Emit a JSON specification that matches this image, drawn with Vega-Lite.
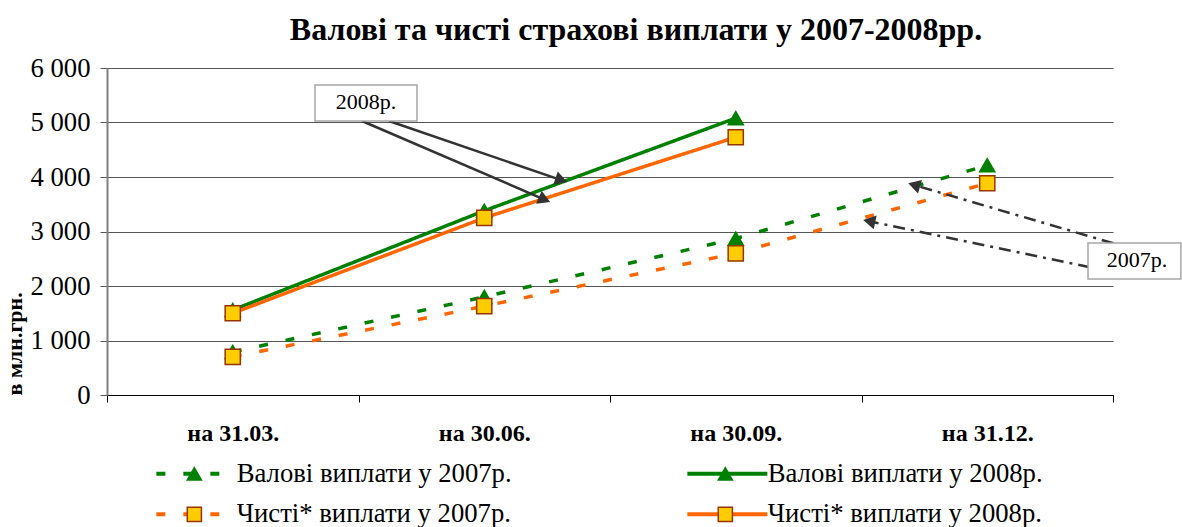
{
  "$schema": "https://vega.github.io/schema/vega-lite/v6.json",
  "width": 1006,
  "height": 327,
  "autosize": {"type": "none"},
  "padding": {"left": 107, "top": 68, "right": 69, "bottom": 132},
  "background": "white",
  "title": {
    "text": "Валові та чисті страхові виплати у 2007-2008рр.",
    "font": "Liberation Serif",
    "fontSize": 32,
    "fontWeight": "bold",
    "color": "black",
    "anchor": "middle",
    "dx": 26,
    "offset": 8
  },
  "config": {
    "view": {"stroke": null},
    "font": "Liberation Serif",
    "axis": {"labelFont": "Liberation Serif", "titleFont": "Liberation Serif"},
    "legend": {"labelFont": "Liberation Serif", "labelFontSize": 26.7, "labelColor": "black", "labelLimit": 500}
  },
  "datasets": {
    "pts": [
      {"series": "Валові виплати у 2007р.", "x": 1, "y": 790},
      {"series": "Валові виплати у 2007р.", "x": 2, "y": 1800},
      {"series": "Валові виплати у 2007р.", "x": 3, "y": 2870},
      {"series": "Валові виплати у 2007р.", "x": 4, "y": 4215},
      {"series": "Валові виплати у 2008р.", "x": 1, "y": 1560},
      {"series": "Валові виплати у 2008р.", "x": 2, "y": 3380},
      {"series": "Валові виплати у 2008р.", "x": 3, "y": 5080},
      {"series": "Чисті* виплати у 2007р.", "x": 1, "y": 700},
      {"series": "Чисті* виплати у 2007р.", "x": 2, "y": 1630},
      {"series": "Чисті* виплати у 2007р.", "x": 3, "y": 2600},
      {"series": "Чисті* виплати у 2007р.", "x": 4, "y": 3885},
      {"series": "Чисті* виплати у 2008р.", "x": 1, "y": 1500},
      {"series": "Чисті* виплати у 2008р.", "x": 2, "y": 3250},
      {"series": "Чисті* виплати у 2008р.", "x": 3, "y": 4730}
    ],
    "arrows": [
      {"label": "2008р.", "id": "a", "x": 1.5139, "y": 5027.5, "x2": 2.2396, "y2": 3585.4},
      {"label": "2008р.", "id": "b", "x": 1.6213, "y": 5027.5, "x2": 2.3064, "y2": 3943.2},
      {"label": "2007р.", "id": "c", "x": 4.5012, "y": 2783.5, "x2": 3.7092, "y2": 3853.3},
      {"label": "2007р.", "id": "d", "x": 4.4085, "y": 2343.2, "x2": 3.5305, "y2": 3189.1}
    ],
    "boxes": [
      {"label": "2008р.", "x": 1.327, "x2": 1.7326, "y": 5688, "y2": 5027.6, "tx": 1.5298, "ty": 5376},
      {"label": "2007р.", "x": 4.4006, "x2": 4.77, "y": 2789, "y2": 2128.5, "tx": 4.5954, "ty": 2477}
    ]
  },
  "layer": [
    {
      "data": {"name": "pts"},
      "mark": {"type": "line", "strokeWidth": 3.5},
      "encoding": {
        "x": {
          "field": "x", "type": "quantitative", "title": null,
          "scale": {"domain": [0.5, 4.5], "nice": false, "zero": false},
          "axis": {
            "values": [0.5, 1.5, 2.5, 3.5, 4.5],
            "labelExpr": "datum.value == 0.5 ? 'на 31.03.' : datum.value == 1.5 ? 'на 30.06.' : datum.value == 2.5 ? 'на 30.09.' : datum.value == 3.5 ? 'на 31.12.' : ''",
            "labelOffset": 125.75,
            "labelFlush": false,
            "labelOverlap": false,
            "labelBound": false,
            "labelFont": "Liberation Serif",
            "labelFontSize": 24,
            "labelFontWeight": "bold",
            "labelColor": "black",
            "labelPadding": 19,
            "tickSize": 7,
            "tickColor": "black",
            "domainColor": "black",
            "grid": false
          }
        },
        "y": {
          "field": "y", "type": "quantitative", "title": "в млн.грн.",
          "scale": {"domain": [0, 6000], "nice": false},
          "axis": {
            "values": [0, 1000, 2000, 3000, 4000, 5000, 6000],
            "labelExpr": "replace(format(datum.value, ','), ',', ' ')",
            "labelFont": "Liberation Serif",
            "labelFontSize": 26.7,
            "labelColor": "black",
            "labelPadding": 10,
            "tickSize": 7,
            "tickColor": "#555555",
            "domainColor": "#808080",
            "domainWidth": 2,
            "grid": true,
            "gridColor": "#555555",
            "gridWidth": 1,
            "titleFont": "Liberation Serif",
            "titleFontSize": 22,
            "titleFontWeight": "bold",
            "titleColor": "black",
            "titleAnchor": "start",
            "titlePadding": 3
          }
        },
        "color": {
          "field": "series", "type": "nominal",
          "scale": {
            "domain": ["Валові виплати у 2007р.", "Валові виплати у 2008р.", "Чисті* виплати у 2007р.", "Чисті* виплати у 2008р."],
            "range": ["#008000", "#008000", "#FF6600", "#FF6600"]
          },
          "legend": {
            "orient": "none", "legendX": 50, "legendY": 392,
            "columns": 2, "direction": "horizontal", "title": null,
            "symbolType": "M-8,0H8", "symbolSize": 100, "symbolStrokeWidth": 4,
            "symbolOffset": 26, "labelOffset": 27,
            "labelFont": "Liberation Serif", "labelFontSize": 26.7, "labelColor": "black",
            "labelLimit": 500, "columnPadding": 167, "rowPadding": 13, "zindex": 0
          }
        },
        "strokeDash": {
          "field": "series", "type": "nominal",
          "scale": {
            "domain": ["Валові виплати у 2007р.", "Валові виплати у 2008р.", "Чисті* виплати у 2007р.", "Чисті* виплати у 2008р."],
            "range": [[9, 18], [1, 0], [9, 18], [1, 0]]
          }
        }
      }
    },
    {
      "data": {"name": "pts"},
      "transform": [{"calculate": "datum.series", "as": "marker"}],
      "mark": {"type": "point", "filled": true, "opacity": 1, "strokeWidth": 1.5},
      "encoding": {
        "x": {"field": "x", "type": "quantitative"},
        "y": {"field": "y", "type": "quantitative"},
        "shape": {
          "field": "marker", "type": "nominal",
          "scale": {"range": ["triangle-up", "triangle-up", "square", "square"]},
          "legend": {
            "orient": "none", "legendX": 50, "legendY": 392,
            "columns": 2, "direction": "horizontal", "title": null,
            "symbolSize": 200, "symbolStrokeWidth": 1.5,
            "symbolOffset": 24, "labelOffset": 29,
            "labelExpr": "''",
            "labelFont": "Liberation Serif", "labelFontSize": 26.7,
            "labelLimit": 500, "columnPadding": 451, "rowPadding": 13, "zindex": 1
          }
        },
        "fill": {
          "field": "marker", "type": "nominal",
          "scale": {"range": ["#008000", "#008000", "#FFCC00", "#FFCC00"]}
        },
        "stroke": {
          "field": "marker", "type": "nominal",
          "scale": {"range": ["#008000", "#008000", "#993300", "#993300"]}
        },
        "size": {
          "field": "marker", "type": "nominal",
          "scale": {
            "domain": ["Валові виплати у 2008р.", "Валові виплати у 2007р.", "Чисті* виплати у 2008р.", "Чисті* виплати у 2007р."],
            "range": [230, 230, 150, 150]
          },
          "legend": null
        }
      }
    },
    {
      "data": {"name": "arrows"},
      "transform": [{"filter": "datum.label == '2008р.'"}],
      "mark": {"type": "rule", "color": "#333333", "strokeWidth": 2.5},
      "encoding": {
        "x": {"field": "x", "type": "quantitative"},
        "y": {"field": "y", "type": "quantitative"},
        "x2": {"field": "x2"},
        "y2": {"field": "y2"}
      }
    },
    {
      "data": {"name": "arrows"},
      "transform": [{"filter": "datum.label == '2007р.'"}],
      "mark": {"type": "rule", "color": "#333333", "strokeWidth": 2.5, "strokeDash": [12, 6, 3, 6]},
      "encoding": {
        "x": {"field": "x", "type": "quantitative"},
        "y": {"field": "y", "type": "quantitative"},
        "x2": {"field": "x2"},
        "y2": {"field": "y2"}
      }
    },
    {
      "data": {"name": "arrows"},
      "transform": [{"filter": "datum.id == 'a'"}],
      "mark": {"type": "point", "shape": "triangle-right", "filled": true, "opacity": 1, "color": "#333333", "size": 200, "angle": 23.3},
      "encoding": {
        "x": {"field": "x2", "type": "quantitative"},
        "y": {"field": "y2", "type": "quantitative"}
      }
    },
    {
      "data": {"name": "arrows"},
      "transform": [{"filter": "datum.id == 'b'"}],
      "mark": {"type": "point", "shape": "triangle-right", "filled": true, "opacity": 1, "color": "#333333", "size": 200, "angle": 18.9},
      "encoding": {
        "x": {"field": "x2", "type": "quantitative"},
        "y": {"field": "y2", "type": "quantitative"}
      }
    },
    {
      "data": {"name": "arrows"},
      "transform": [{"filter": "datum.id == 'c'"}],
      "mark": {"type": "point", "shape": "triangle-right", "filled": true, "opacity": 1, "color": "#333333", "size": 200, "angle": 196.3},
      "encoding": {
        "x": {"field": "x2", "type": "quantitative"},
        "y": {"field": "y2", "type": "quantitative"}
      }
    },
    {
      "data": {"name": "arrows"},
      "transform": [{"filter": "datum.id == 'd'"}],
      "mark": {"type": "point", "shape": "triangle-right", "filled": true, "opacity": 1, "color": "#333333", "size": 200, "angle": 191.8},
      "encoding": {
        "x": {"field": "x2", "type": "quantitative"},
        "y": {"field": "y2", "type": "quantitative"}
      }
    },
    {
      "data": {"name": "boxes"},
      "mark": {"type": "rect", "fill": "white", "stroke": "#A6A6A6", "strokeWidth": 1.5},
      "encoding": {
        "x": {"field": "x", "type": "quantitative"},
        "x2": {"field": "x2"},
        "y": {"field": "y", "type": "quantitative"},
        "y2": {"field": "y2"}
      }
    },
    {
      "data": {"name": "boxes"},
      "mark": {"type": "text", "font": "Liberation Serif", "fontSize": 22, "color": "black", "align": "center", "baseline": "middle"},
      "encoding": {
        "x": {"field": "tx", "type": "quantitative"},
        "y": {"field": "ty", "type": "quantitative"},
        "text": {"field": "label"}
      }
    }
  ]
}
